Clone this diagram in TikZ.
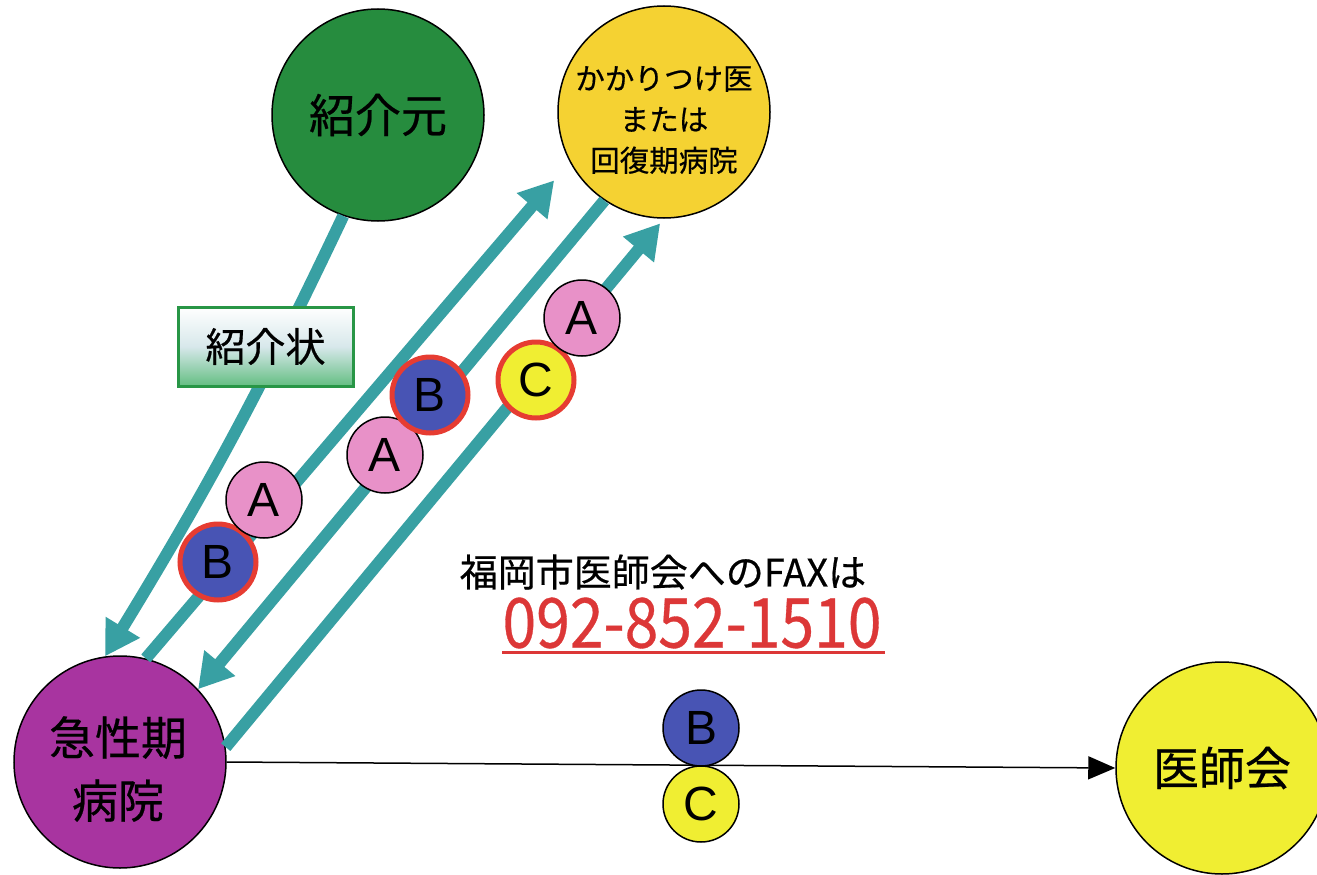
\documentclass[tikz,border=0pt]{standalone}
\usepackage{fontspec}
\usepackage{graphicx}
\setmainfont{Noto Sans CJK JP}[FakeBold=0.5]
\newfontfamily\latinfont{Liberation Sans}
\usetikzlibrary{arrows.meta}
\definecolor{flowteal}{RGB}{56,160,163}
\definecolor{srcgreen}{RGB}{38,140,62}
\definecolor{gpgold}{RGB}{245,210,50}
\definecolor{acutepurple}{RGB}{168,52,160}
\definecolor{ishiyellow}{RGB}{240,238,50}
\definecolor{tokpink}{RGB}{232,145,200}
\definecolor{tokblue}{RGB}{72,84,180}
\definecolor{tokyellow}{RGB}{240,238,50}
\definecolor{ringred}{RGB}{230,60,50}
\definecolor{phonered}{RGB}{220,55,55}
\definecolor{boxgreen}{RGB}{40,150,70}
\definecolor{boxfill}{RGB}{100,190,130}
\definecolor{boxmid}{RGB}{215,232,235}
\begin{document}
\begin{tikzpicture}[x=1pt,y=-1pt,
  bigcirc/.style={circle, draw=black, line width=1.5pt, minimum size=212pt, inner sep=0pt, align=center},
  flow/.style={draw=flowteal, line width=12pt, -{Triangle[width=38pt,length=34pt]}},
  token/.style={circle, draw=black, line width=1.5pt, minimum size=76pt, inner sep=0pt, font=\latinfont\fontsize{48}{48}\selectfont},
  tokenred/.style={token, draw=ringred, line width=5pt},
  bigtext/.style={font=\fontsize{46}{63}\selectfont}
]
\useasboundingbox (0,0) rectangle (1317,875);
\fill[white] (0,0) rectangle (1317,875);
\clip (0,0) rectangle (1317,875);

% main circles
\node[bigcirc, fill=srcgreen, bigtext] (src) at (378,115) {紹介元};
\node[bigcirc, fill=gpgold] (gp) at (664,112) {};
\node[align=center, inner sep=0pt, font=\fontsize{29.5}{41}\selectfont] (gptext) at (664,120) {かかりつけ医\\または\\回復期病院};
\node[bigcirc, fill=acutepurple] (acute) at (120,762) {};
\node[align=center, inner sep=0pt, bigtext] (acutetext) at (118,769) {急性期\\病院};
\node[bigcirc, fill=ishiyellow, bigtext] (ishi) at (1222,768) {医師会};

% flows
\draw[flow] (src.251) to[bend left=3] (acute.98);
\draw[flow, shorten >=24pt] (acute.76) -- (gp.208);
\draw[flow] (gp.236) -- (acute.43);
\draw[flow, shorten >=6pt] (acute.8) -- (gp.270);

% referral letter box
\node[draw=boxgreen, line width=3pt, minimum width=175pt, minimum height=79pt, inner sep=0pt,
      top color=white, bottom color=boxfill, middle color=boxmid,
      font=\fontsize{40}{40}\selectfont] (letter) at (265.5,346.5) {紹介状};

% tokens on diagonals
\node[tokenred, fill=tokblue] (b1) at (218,562) {B};
\node[token, fill=tokpink] (a1) at (264,500) {A};
\node[token, fill=tokpink] (a2) at (385,455) {A};
\node[tokenred, fill=tokblue] (b2) at (430,395) {B};
\node[tokenred, fill=tokyellow] (c1) at (536,380) {C};
\node[token, fill=tokpink] (a3) at (582,318) {A};

% horizontal arrow
\draw[line width=1.5pt, -{Triangle[width=23pt,length=27pt]}] (acute.east) -- (ishi.west);
\node[token, fill=tokblue] (bh) at (701,728) {B};
\node[token, fill=tokyellow] (ch) at (701,804) {C};

% FAX text
\node[font=\fontsize{38}{38}\selectfont, inner sep=0pt] (fax) at (663,572) {福岡市医師会へのFAXは};
\node[text=phonered, inner sep=0pt] (tel) at (692,623) {\resizebox{379pt}{50pt}{092-852-1510}};
\draw[phonered, line width=3pt] ([yshift=-4pt]tel.south west) -- ([yshift=-4pt,xshift=3pt]tel.south east);
\end{tikzpicture}
\end{document}
